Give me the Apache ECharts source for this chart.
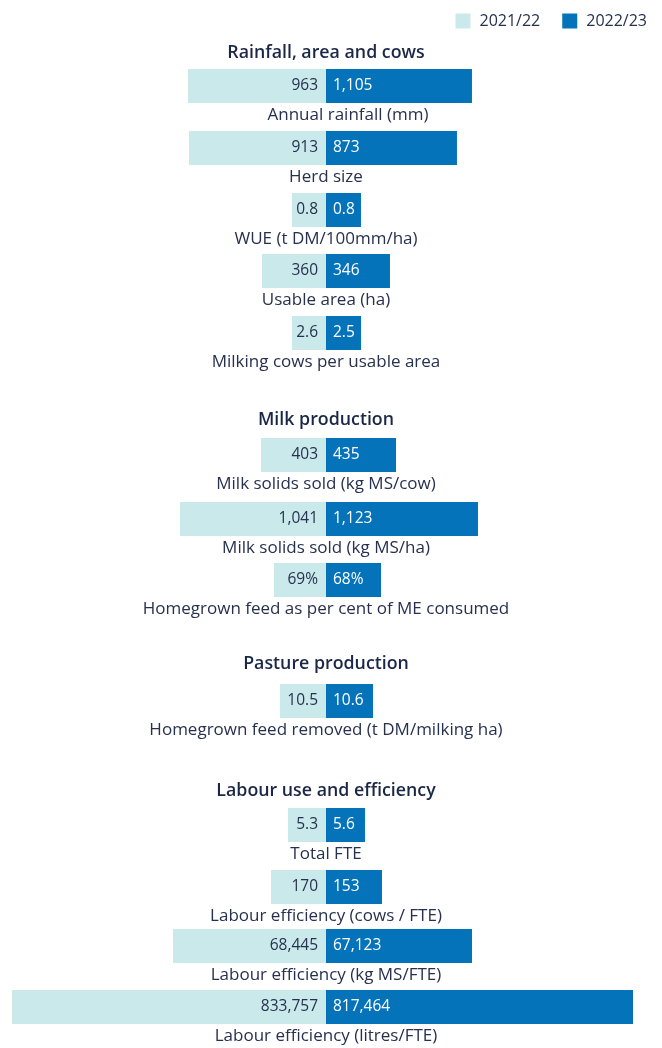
<!DOCTYPE html>
<html>
<head>
<meta charset="utf-8">
<script src="https://cdn.jsdelivr.net/npm/echarts@6/dist/echarts.min.js"></script>
<style>
  html, body { margin: 0; padding: 0; background: #fff; }
  #chart { width: 662px; height: 1048px; }
</style>
</head>
<body>
<div id="chart"></div>
<script>
// data
const sections = ['Rainfall, area and cows', 'Milk production', 'Pasture production', 'Labour use and efficiency'];
const categories = [
  'Annual rainfall (mm)', 'Herd size', 'WUE (t DM/100mm/ha)', 'Usable area (ha)', 'Milking cows per usable area',
  'Milk solids sold (kg MS/cow)', 'Milk solids sold (kg MS/ha)', 'Homegrown feed as per cent of ME consumed',
  'Homegrown feed removed (t DM/milking ha)',
  'Total FTE', 'Labour efficiency (cows / FTE)', 'Labour efficiency (kg MS/FTE)', 'Labour efficiency (litres/FTE)'
];
const units = ['', '', '', '', '', '', '', '%', '', '', '', '', ''];
const values2122 = [963, 913, 0.8, 360, 2.6, 403, 1041, 69, 10.5, 5.3, 170, 68445, 833757];
const values2223 = [1105, 873, 0.8, 346, 2.5, 435, 1123, 68, 10.6, 5.6, 153, 67123, 817464];

// each row has its own scale (half range of the axis on each side)
const leftRange = [2191, 2093, 7.39, 1766, 24.0, 1947, 2239, 416.7, 71.7, 43.8, 970, 140470, 833757];
const rightRange = [2377, 2093, 7.18, 1698, 22.4, 1951, 2320, 388.2, 70.8, 45.1, 858, 144360, 836100];

// layout
const rowTop = [69, 131, 193, 254, 316, 438, 502, 563, 684, 808, 870, 929, 990];
const sectionTop = [42, 409, 653, 780];
const barH = 34;
const LIGHT = '#c9e9eb';
const DARK = '#0473ba';
const TEXT = '#27314f';
const FONT = 'Open Sans';

const fmt = (v, i) => v.toLocaleString('en-US') + units[i];

const grid = [], xAxis = [], yAxis = [], series = [];
categories.forEach((cat, i) => {
  grid.push({ left: 12, right: 22, top: rowTop[i], height: barH });
  yAxis.push({ gridIndex: i, type: 'category', data: [cat], show: false });
  xAxis.push({
    gridIndex: i, type: 'value', min: -leftRange[i], max: leftRange[i],
    axisLine: { show: false }, axisTick: { show: false }, axisLabel: { show: false }, splitLine: { show: false },
    name: cat, nameLocation: 'middle', nameGap: 4,
    nameTextStyle: { fontFamily: FONT, fontSize: 17, color: TEXT, padding: i === 0 ? [0, 0, 0, 44] : 0 }
  });
  xAxis.push({
    gridIndex: i, type: 'value', min: -rightRange[i], max: rightRange[i], show: false
  });
  series.push({
    name: '2021/22', type: 'bar', xAxisIndex: 2 * i, yAxisIndex: i,
    data: [-values2122[i]], barWidth: barH, barGap: '-100%', silent: true,
    itemStyle: { color: LIGHT },
    label: {
      show: true, position: 'insideRight', distance: 8,
      fontFamily: FONT, fontSize: 15.5, color: TEXT,
      formatter: () => fmt(values2122[i], i)
    }
  });
  series.push({
    name: '2022/23', type: 'bar', xAxisIndex: 2 * i + 1, yAxisIndex: i,
    data: [values2223[i]], barWidth: barH, barGap: '-100%', silent: true,
    itemStyle: { color: DARK },
    label: {
      show: true, position: 'insideLeft', distance: 7,
      fontFamily: FONT, fontSize: 15.5, color: '#ffffff',
      formatter: () => fmt(values2223[i], i)
    }
  });
});

const option = {
  animation: false,
  title: sections.map((s, k) => ({
    text: s, left: 326, top: sectionTop[k], textAlign: 'center', padding: 0,
    textStyle: { fontFamily: FONT, fontSize: 17.8, fontWeight: 600, color: '#1b2747', lineHeight: 22 }
  })),
  legend: {
    data: ['2021/22', '2022/23'], right: 15, top: 13, padding: 0,
    icon: 'rect', itemWidth: 15, itemHeight: 15, itemGap: 22,
    textStyle: { fontFamily: FONT, fontSize: 16, color: TEXT, padding: [0, 0, 0, 4] }
  },
  grid, xAxis, yAxis, series
};

echarts.init(document.getElementById('chart')).setOption(option);
</script>
</body>
</html>
